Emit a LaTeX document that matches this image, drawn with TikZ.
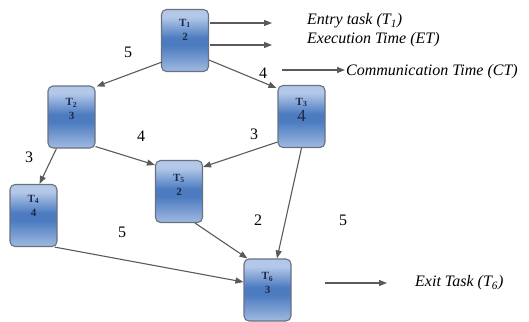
\documentclass[tikz,border=0pt]{standalone}
\usepackage{fontspec}
\setmainfont{Liberation Serif}
\usetikzlibrary{arrows.meta,calc}
\definecolor{boxtop}{HTML}{B3C8E9}
\definecolor{boxmid}{HTML}{4C7BC0}
\definecolor{boxbot}{HTML}{A0BAE0}
\definecolor{boxline}{HTML}{687180}
\definecolor{boxtext}{HTML}{1C2A4A}
\definecolor{edgecol}{HTML}{5A5A5A}
\pgfdeclareverticalshading{taskshade}{100bp}{color(0bp)=(boxbot); color(25bp)=(boxbot); color(46bp)=(boxmid); color(52bp)=(boxmid); color(69bp)=(boxtop); color(100bp)=(boxtop)}
\tikzset{
  task/.style={draw=boxline, line width=1.1pt, rounded corners=5pt,
    minimum width=47pt, minimum height=62pt, inner sep=0pt,
    shading=taskshade},
  tasktext/.style={align=center, text=boxtext, inner sep=0pt,
    font=\fontsize{11}{14}\selectfont\bfseries},
  edge/.style={draw=edgecol, line width=1.1pt, -{Triangle[length=8pt,width=6pt]}},
  wlabel/.style={font=\fontsize{16}{18}\selectfont, inner sep=0pt},
  legend/.style={font=\fontsize{16}{18}\selectfont\itshape, anchor=west, inner sep=0pt}
}
\begin{document}
\begin{tikzpicture}[x=1pt,y=-1pt]
\useasboundingbox (0,0) rectangle (529,321);
% task boxes
\node[task] (t1) at (185,40.5) {};
\node[task] (t2) at (71.5,117) {};
\node[task] (t3) at (301.5,116.5) {};
\node[task] (t4) at (33.5,215.5) {};
\node[task] (t5) at (179,191.5) {};
\node[task] (t6) at (267.5,290) {};
\node[tasktext] (t1l) at ($(t1)+(0,-11)$) {T\textsubscript{1}\\2};
\node[tasktext] (t2l) at ($(t2)+(0,-8)$) {T\textsubscript{2}\\3};
\node[tasktext] (t3l) at ($(t3)+(0,-7)$) {T\textsubscript{3}\\[2pt]{\fontsize{17}{17}\selectfont\mdseries 4}};
\node[tasktext] (t4l) at ($(t4)+(0,-10)$) {T\textsubscript{4}\\4};
\node[tasktext] (t5l) at ($(t5)+(0,-7)$) {T\textsubscript{5}\\2};
\node[tasktext] (t6l) at ($(t6)+(0,-7)$) {T\textsubscript{6}\\3};
% edges
\draw[edge] ($(t1.south west)+(1,-10)$) -- ($(t2.north east)+(1,1)$);
\draw[edge] ($(t1.south east)+(0,-12)$) -- ($(t3.north west)+(-1,3)$);
\draw[edge] ($(t2.south west)+(9,0)$) -- ($(t4.north)+(6,0)$);
\draw[edge] ($(t2.south east)+(0,-2)$) -- ($(t5.north west)+(0,5)$);
\draw[edge] ($(t3.south west)+(0,-6)$) -- ($(t5.north east)+(0,7)$);
\draw[edge] (t3.south) -- ($(t6.north)+(9.5,0)$);
\draw[edge] ($(t5.south)+(16,0)$) -- ($(t6.north west)+(4,0)$);
\draw[edge] ($(t4.south east)+(-3,0)$) -- ($(t6.west)+(0,-8)$);
% edge weights
\node[wlabel] (w12) at (128,52) {5};
\node[wlabel] (w13) at (263,73) {4};
\node[wlabel] (w24) at (29,157) {3};
\node[wlabel] (w25) at (141,136) {4};
\node[wlabel] (w35) at (254,134) {3};
\node[wlabel] (w56) at (258,220) {2};
\node[wlabel] (w36) at (343,220) {5};
\node[wlabel] (w46) at (122,232) {5};
% legend
\coordinate (e1a) at (210,23); \coordinate (e1b) at (272,23);
\coordinate (e2a) at (210,45); \coordinate (e2b) at (272,45);
\coordinate (e3a) at (282,70); \coordinate (e3b) at (345,70);
\coordinate (e4a) at (325,283); \coordinate (e4b) at (387,283);
\draw[edge] (e1a) -- (e1b);
\draw[edge] (e2a) -- (e2b);
\draw[edge] (e3a) -- (e3b);
\draw[edge] (e4a) -- (e4b);
\node[legend] (lg1) at (307,21) {Entry task (T\textsubscript{1})};
\node[legend] (lg2) at (307,40) {Execution Time (ET)};
\node[legend] (lg3) at (346,72) {Communication Time (CT)};
\node[legend] (lg4) at (415,283) {Exit Task (T\textsubscript{6})};
\end{tikzpicture}
\end{document}
